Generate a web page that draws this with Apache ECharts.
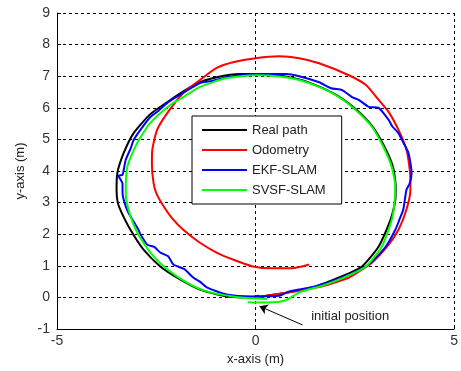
<!DOCTYPE html>
<html>
<head>
<meta charset="utf-8">
<script src="https://cdn.jsdelivr.net/npm/echarts@6/dist/echarts.min.js"></script>
<style>html,body{margin:0;padding:0;background:#fff;}#c{width:461px;height:371px;}</style>
</head>
<body>
<div id="c"></div>
<script>
var xTicks = [-5, 0, 5];
var yTicks = [-1, 0, 1, 2, 3, 4, 5, 6, 7, 8, 9];
var seriesNames = ['Real path', 'Odometry', 'EKF-SLAM', 'SVSF-SLAM'];

var realPath = [[0,0],[0.85,0.16],[1.52,0.35],[2.1,0.63],[2.68,0.98],[3.1,1.61],[3.4,2.46],[3.52,3.09],[3.53,3.5],[3.46,4.13],[3.25,4.76],[2.95,5.4],[2.55,5.93],[2.12,6.34],[1.62,6.66],[1.1,6.9],[0.5,7.04],[0.02,7.07],[-0.4,7.07],[-0.98,6.97],[-1.4,6.81],[-1.82,6.52],[-2.2,6.2],[-2.65,5.8],[-3.07,5.2],[-3.32,4.57],[-3.48,3.94],[-3.5,3.4],[-3.47,3.0],[-3.38,2.7],[-3.15,2.14],[-2.82,1.51],[-2.4,0.98],[-1.9,0.57],[-1.4,0.25],[-0.73,0.03],[0,0]];

var odometry = [[0,0],[0.85,0.16],[1.68,0.35],[2.35,0.63],[2.93,1.1],[3.35,1.67],[3.6,2.14],[3.8,2.78],[3.9,3.41],[3.9,3.72],[3.85,4.35],[3.78,4.76],[3.6,5.3],[3.35,5.87],[3.1,6.25],[2.78,6.72],[2.35,7.03],[1.6,7.41],[1.1,7.57],[0.6,7.63],[0,7.57],[-0.57,7.44],[-0.98,7.26],[-1.4,6.88],[-1.82,6.47],[-2.22,5.84],[-2.48,5.3],[-2.6,4.67],[-2.61,4.2],[-2.57,3.63],[-2.5,3.3],[-2.3,2.85],[-2.1,2.5],[-1.82,2.14],[-1.4,1.73],[-0.98,1.42],[-0.57,1.2],[-0.07,0.98],[0.42,0.92],[0.92,0.92],[1.35,1.04]];

var ekfSlam = [[0,0.03],[0.6,0.05],[0.85,0.19],[1.52,0.35],[2.18,0.63],[2.85,1.04],[3.28,1.61],[3.52,2.14],[3.62,2.45],[3.72,2.78],[3.8,3.41],[3.88,3.6],[3.93,3.94],[3.9,4.26],[3.85,4.57],[3.78,4.76],[3.72,4.9],[3.6,5.2],[3.45,5.4],[3.35,5.62],[3.1,6.0],[2.85,6.03],[2.6,6.25],[2.43,6.34],[2.18,6.56],[1.9,6.62],[1.6,6.81],[1.1,7.0],[0.77,7.07],[0.02,7.07],[-0.73,6.97],[-1.1,6.85],[-1.4,6.78],[-1.85,6.45],[-2.2,6.18],[-2.45,5.9],[-2.65,5.71],[-2.9,5.3],[-3.07,4.98],[-3.15,4.7],[-3.27,4.35],[-3.35,3.88],[-3.45,3.85],[-3.35,3.6],[-3.35,3.31],[-3.3,3.0],[-3.2,2.68],[-2.95,2.14],[-2.9,2.0],[-2.73,1.67],[-2.55,1.6],[-2.4,1.42],[-2.2,1.3],[-2.07,1.04],[-1.8,0.9],[-1.57,0.63],[-1.4,0.5],[-1.23,0.32],[-0.73,0.09],[-0.07,0.03],[0.1,0.05]];

var svsfSlam = [[-0.2,-0.15],[0.3,-0.16],[0.75,-0.1],[1.1,0.16],[1.7,0.38],[2.2,0.62],[2.78,0.98],[3.18,1.61],[3.43,2.46],[3.5,3.0],[3.52,3.5],[3.43,4.13],[3.22,4.76],[2.93,5.4],[2.52,5.93],[2.1,6.34],[1.6,6.66],[1.1,6.88],[0.6,6.99],[0.02,7.03],[-0.73,6.94],[-1.4,6.66],[-1.82,6.34],[-2.15,6.09],[-2.65,5.52],[-2.98,4.89],[-3.23,4.13],[-3.27,3.31],[-3.2,2.78],[-2.98,2.05],[-2.65,1.42],[-2.22,0.88],[-1.73,0.47],[-1.23,0.19],[-0.57,0.03],[-0.07,-0.03],[0.3,-0.05]];

var arrowTail = [1.18, -0.87];
var arrowHead = [0.1, -0.28];
var noteText = 'initial position';
var noteAnchor = [1.4, -0.66];

var colors = ['#000000', '#ff0000', '#0000ff', '#00ff00'];
var allData = [realPath, odometry, ekfSlam, svsfSlam];

var chart = echarts.init(document.getElementById('c'), null, {renderer: 'canvas'});
var fontFam = '"Liberation Sans", Arial, sans-serif';

var series = seriesNames.map(function (n, i) {
  return {
    name: n, type: 'line', data: allData[i], showSymbol: false, smooth: 0.2,
    lineStyle: {color: colors[i], width: 2}, itemStyle: {color: colors[i]},
    animation: false, z: 2 + i
  };
});
series[3].markLine = {
  silent: true, animation: false, symbol: ['none', 'arrow'], symbolSize: 8,
  lineStyle: {color: '#000', width: 1, type: 'solid'}, label: {show: false},
  data: [[{coord: arrowTail}, {coord: arrowHead}]]
};

chart.setOption({
  animation: false,
  backgroundColor: '#fff',
  grid: {left: 57, right: 4, top: 13, bottom: 41},
  legend: {
    data: seriesNames, orient: 'vertical', left: 192, top: 116,
    icon: 'rect', itemWidth: 45, itemHeight: 2, itemGap: 6,
    padding: [7, 16, 7, 10], borderColor: '#000', borderWidth: 1, backgroundColor: '#fff',
    textStyle: {fontFamily: fontFam, fontSize: 13, color: '#222', lineHeight: 14}
  },
  xAxis: {
    type: 'value', min: xTicks[0], max: xTicks[xTicks.length - 1], interval: 5,
    name: 'x-axis (m)', nameLocation: 'middle', nameGap: 24,
    nameTextStyle: {fontFamily: fontFam, fontSize: 13, color: '#222'},
    axisLine: {show: true, onZero: false, lineStyle: {color: '#000', width: 1}},
    axisTick: {show: true, inside: true, length: 4, lineStyle: {color: '#000'}},
    axisLabel: {fontFamily: fontFam, fontSize: 14, color: '#333', margin: 5},
    splitLine: {show: true, lineStyle: {color: '#000', type: [3, 3], width: 1}}
  },
  yAxis: {
    type: 'value', min: yTicks[0], max: yTicks[yTicks.length - 1], interval: 1,
    name: 'y-axis (m)', nameLocation: 'middle', nameGap: 29,
    nameTextStyle: {fontFamily: fontFam, fontSize: 13, color: '#222'},
    axisLine: {show: true, onZero: false, lineStyle: {color: '#000', width: 1}},
    axisTick: {show: true, inside: true, length: 4, lineStyle: {color: '#000'}},
    axisLabel: {fontFamily: fontFam, fontSize: 14, color: '#333', margin: 7},
    splitLine: {show: true, lineStyle: {color: '#000', type: [3, 3], width: 1}}
  },
  series: series
});

var p = chart.convertToPixel({gridIndex: 0}, noteAnchor);
chart.setOption({
  graphic: [{
    type: 'text', left: p[0], top: p[1] - 8, silent: true,
    style: {text: noteText, fill: '#222', font: '13px "Liberation Sans", Arial, sans-serif'}
  }]
});
</script>
</body>
</html>
